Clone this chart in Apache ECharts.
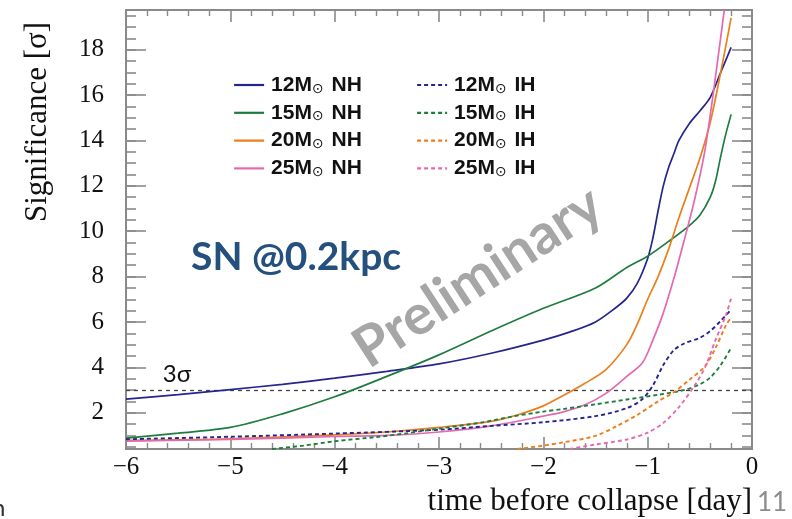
<!DOCTYPE html>
<html>
<head>
<meta charset="utf-8">
<script src="https://cdn.jsdelivr.net/npm/echarts@6/dist/echarts.min.js"></script>
<style>
  html, body { margin: 0; padding: 0; background: #ffffff; }
  #chart { width: 792px; height: 519px; }
</style>
</head>
<body>
<div id="chart"></div>
<script>
// Significance vs. time before core collapse, for a supernova at 0.2 kpc.
// Four progenitor masses, normal (NH) and inverted (IH) mass hierarchy.

const names = ['12M⊙ NH', '15M⊙ NH', '20M⊙ NH', '25M⊙ NH',
               '12M⊙ IH', '15M⊙ IH', '20M⊙ IH', '25M⊙ IH'];
const colors = ['#25258f', '#1d7d3f', '#e97f1d', '#e36ab0'];

// time before collapse [day]
const nh12X = [-6, -5.5, -5, -4.5, -4, -3.5, -3, -2.5, -2, -1.75, -1.5, -1.3, -1.2, -1.1, -1.0, -0.95, -0.9, -0.85, -0.8, -0.75, -0.7, -0.6, -0.5, -0.4, -0.3, -0.2];
const nh12Y = [2.6, 2.8, 3.02, 3.25, 3.52, 3.82, 4.15, 4.62, 5.2, 5.55, 6.0, 6.65, 7.05, 7.7, 8.8, 9.7, 10.9, 12.0, 12.8, 13.4, 14.0, 14.75, 15.3, 15.9, 17.0, 18.1];

const nh15X = [-6, -5.5, -5, -4.5, -4, -3.5, -3, -2.5, -2, -1.5, -1.2, -1.0, -0.8, -0.6, -0.5, -0.4, -0.35, -0.3, -0.25, -0.2];
const nh15Y = [0.88, 1.1, 1.35, 1.95, 2.7, 3.6, 4.55, 5.6, 6.6, 7.5, 8.4, 8.9, 9.55, 10.25, 10.7, 11.5, 12.2, 13.3, 14.3, 15.15];

const nh20X = [-6, -5, -4, -3.5, -3, -2.5, -2.25, -2, -1.8, -1.6, -1.4, -1.2, -1.1, -1.0, -0.9, -0.8, -0.7, -0.6, -0.5, -0.4, -0.3, -0.2];
const nh20Y = [0.78, 0.85, 1.02, 1.15, 1.35, 1.62, 1.9, 2.3, 2.78, 3.3, 3.9, 5.0, 5.9, 7.0, 8.0, 9.2, 10.6, 11.9, 13.2, 14.8, 17.0, 19.4];

const nh25X = [-6, -5, -4, -3.5, -3, -2.5, -2, -1.8, -1.6, -1.4, -1.2, -1.05, -0.95, -0.85, -0.75, -0.65, -0.55, -0.45, -0.35, -0.25, -0.2];
const nh25Y = [0.75, 0.82, 0.95, 1.0, 1.15, 1.42, 1.85, 2.05, 2.35, 2.85, 3.6, 4.2, 5.2, 6.4, 7.9, 9.6, 11.4, 13.6, 16.8, 20.3, 22.0];

const ih12X = [-6, -5, -4, -3, -2.5, -2, -1.5, -1.2, -1.05, -0.95, -0.85, -0.75, -0.65, -0.5, -0.4, -0.3, -0.2];
const ih12Y = [0.83, 0.94, 1.08, 1.25, 1.42, 1.58, 1.85, 2.2, 2.6, 3.2, 4.1, 4.75, 5.05, 5.3, 5.6, 6.05, 6.55];

const ih15X = [-4.6, -4.3, -4.0, -3.6, -3.3, -3.0, -2.6, -2.3, -2.0, -1.8, -1.5, -1.2, -0.9, -0.65, -0.5, -0.4, -0.3, -0.2];
const ih15Y = [0.4, 0.55, 0.74, 0.93, 1.1, 1.3, 1.56, 1.83, 2.05, 2.17, 2.37, 2.58, 2.79, 3.0, 3.25, 3.55, 4.1, 4.86];

const ih20X = [-2.25, -2.0, -1.8, -1.5, -1.3, -1.1, -0.9, -0.75, -0.6, -0.45, -0.35, -0.25, -0.2];
const ih20Y = [0.4, 0.55, 0.7, 0.98, 1.4, 1.9, 2.5, 2.9, 3.45, 4.05, 4.85, 5.85, 6.2];

const ih25X = [-1.75, -1.5, -1.2, -1.0, -0.85, -0.7, -0.55, -0.45, -0.35, -0.25, -0.2];
const ih25Y = [0.4, 0.6, 0.82, 1.12, 1.55, 2.25, 3.2, 4.0, 5.2, 6.3, 7.05];

const threshold = 3;   // 3 sigma line
const yMajorTicks = [2, 4, 6, 8, 10, 12, 14, 16, 18];
const yMinorTicks = [];
for (let v = 0.5; v < 19.75; v += 0.5) yMinorTicks.push(v);

const pairs = (xs, ys) => xs.map((x, i) => [x, ys[i]]);
const seriesData = [
  pairs(nh12X, nh12Y), pairs(nh15X, nh15Y), pairs(nh20X, nh20Y), pairs(nh25X, nh25Y),
  pairs(ih12X, ih12Y), pairs(ih15X, ih15Y), pairs(ih20X, ih20Y), pairs(ih25X, ih25Y)
];

const frame = '#8a8a8a';
const serif = '"Liberation Serif", "Times New Roman", serif';
const minus = v => String(v).replace('-', '\u2212');

const series = seriesData.map((d, i) => {
  const dashed = i >= 4;
  const s = {
    name: names[i],
    type: 'line',
    data: d,
    showSymbol: false,
    symbol: 'none',
    smooth: 0.3,
    clip: true,
    xAxisIndex: 0,
    yAxisIndex: 0,
    color: colors[i % 4],
    lineStyle: {
      color: colors[i % 4],
      width: dashed ? 1.9 : 1.7,
      type: dashed ? [4, 3] : 'solid'
    },
    emphasis: { disabled: true },
    z: 3
  };
  if (i === 0) {
    s.markLine = {
      silent: true,
      symbol: 'none',
      label: { show: false },
      lineStyle: { color: '#444', width: 1.3, type: [4, 4] },
      data: [{ yAxis: threshold }],
      z: 2
    };
  }
  return s;
});

const legendRich = {
  t: { fontFamily: '"Liberation Sans", Arial, sans-serif', fontWeight: 'bold', fontSize: 21, color: '#111', lineHeight: 22 },
  s: { fontFamily: '"DejaVu Sans", sans-serif', fontSize: 14, color: '#111', lineHeight: 22, verticalAlign: 'bottom', padding: [10, 2, 0, 0] }
};
const legendFormatter = name => {
  const parts = name.split('⊙');
  return '{t|' + parts[0] + '}{s|⊙}{t|' + parts[1] + '}';
};
const legendBase = {
  orient: 'vertical',
  padding: 0,
  itemWidth: 30,
  itemHeight: 14,
  itemGap: 3.8,
  selectedMode: false,
  itemStyle: { opacity: 0 },
  lineStyle: { width: 2.2 },
  formatter: legendFormatter,
  textStyle: { rich: legendRich, padding: [0, 0, 0, 2] }
};

const yTickAxis = (position, values, length, labels) => ({
  type: 'value',
  position: position,
  min: 0.4,
  max: 19.75,
  splitLine: { show: false },
  axisLine: { show: true, onZero: false, lineStyle: { color: frame, width: 2 } },
  axisTick: { show: true, inside: true, length: length, customValues: values, lineStyle: { color: frame, width: 1.6 } },
  axisLabel: labels ? {
    show: true, customValues: yMajorTicks, margin: 22,
    fontFamily: serif, fontSize: 25, color: '#111'
  } : { show: false },
  minorTick: { show: false }
});

const xTickAxis = (position, labels) => ({
  type: 'value',
  position: position,
  min: -6,
  max: 0,
  interval: 1,
  splitLine: { show: false },
  axisLine: { show: true, onZero: false, lineStyle: { color: frame, width: 2 } },
  axisTick: { show: true, inside: true, length: 12, lineStyle: { color: frame, width: 1.6 } },
  minorTick: { show: true, splitNumber: 5, length: 6, lineStyle: { color: frame, width: 1.4 } },
  axisLabel: labels ? {
    show: true, margin: 6, formatter: minus,
    fontFamily: serif, fontSize: 25, color: '#111'
  } : { show: false }
});

const chart = echarts.init(document.getElementById('chart'), null, { renderer: 'canvas' });
chart.setOption({
  animation: false,
  backgroundColor: '#ffffff',
  grid: { left: 126, right: 40, top: 10, bottom: 70, containLabel: false },
  xAxis: [xTickAxis('bottom', true), xTickAxis('top', false)],
  yAxis: [
    yTickAxis('left', yMajorTicks, 20, true),
    yTickAxis('left', yMinorTicks, 10, false),
    yTickAxis('right', yMajorTicks, 20, false),
    yTickAxis('right', yMinorTicks, 10, false)
  ],
  legend: [
    Object.assign({}, legendBase, { left: 233, top: 72, data: names.slice(0, 4) }),
    Object.assign({}, legendBase, { left: 416, top: 72, data: names.slice(4) })
  ],
  series: series,
  graphic: [
    {
      type: 'text', x: 38, y: 122, rotation: Math.PI / 2, silent: true,
      style: { text: 'Significance [σ]', font: '31px ' + serif, fill: '#111', align: 'center', verticalAlign: 'middle' }
    },
    {
      type: 'text', x: 752, y: 502, silent: true,
      style: { text: 'time before collapse [day]', font: '31px ' + serif, fill: '#111', align: 'right', verticalAlign: 'middle' }
    },
    {
      type: 'text', x: 757, y: 503, silent: true,
      style: { text: '11', font: '26px Lato, sans-serif', fill: '#8c8c8c', align: 'left', verticalAlign: 'middle' }
    },
    {
      type: 'text', x: -8, y: 508, silent: true,
      style: { text: 'n', font: '24px Lato, sans-serif', fill: '#333', align: 'left', verticalAlign: 'middle' }
    },
    {
      type: 'text', x: 191, y: 257, silent: true,
      style: { text: 'SN @0.2kpc', font: 'bold 39px Lato, sans-serif', fill: '#24507d', align: 'left', verticalAlign: 'middle' }
    },
    {
      type: 'text', x: 177, y: 374, silent: true,
      style: { text: '3σ', font: '24px Lato, sans-serif', fill: '#111', align: 'center', verticalAlign: 'middle' }
    },
    {
      type: 'text', x: 478, y: 277, rotation: 33 * Math.PI / 180, silent: true, z: 1,
      style: { text: 'Preliminary', font: 'bold 56px Lato, sans-serif', fill: '#a6a6a6', align: 'center', verticalAlign: 'middle' }
    }
  ]
});
</script>
</body>
</html>
